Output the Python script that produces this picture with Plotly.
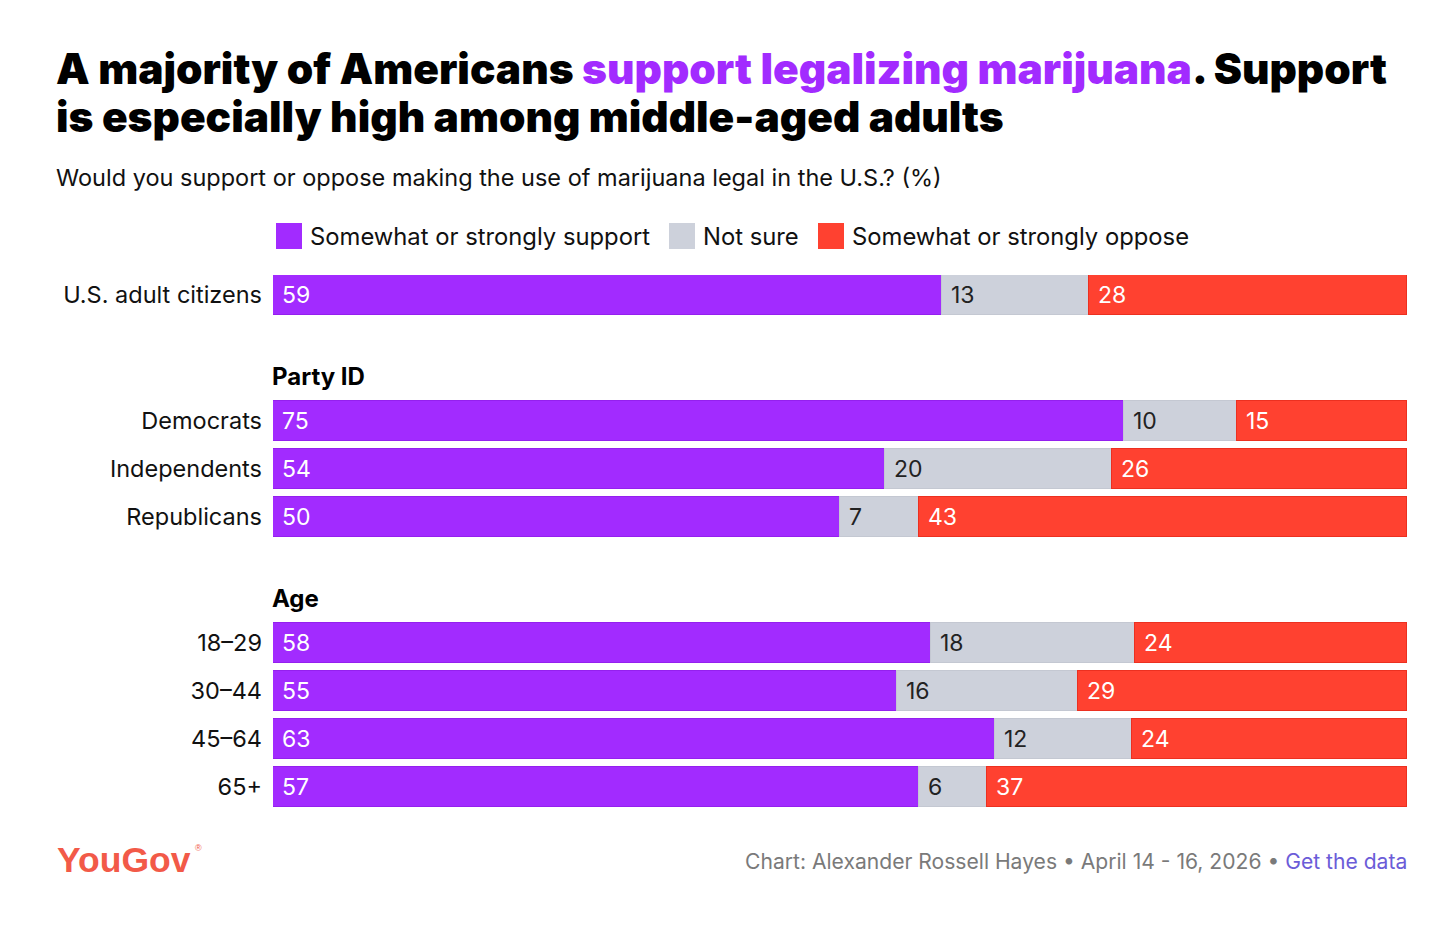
import plotly.graph_objects as go

# rows, top to bottom
groups = ["", "Party ID", "Age"]
group_rows = [
    ["U.S. adult citizens"],
    ["Democrats", "Independents", "Republicans"],
    ["18–29", "30–44", "45–64", "65+"],
]
support = [59, 75, 54, 50, 58, 55, 63, 57]
not_sure = [13, 10, 20, 7, 18, 16, 12, 6]
oppose = [28, 15, 26, 43, 24, 29, 24, 37]

series_names = ["Somewhat or strongly support", "Not sure", "Somewhat or strongly oppose"]
colors = ["#A22BFF", "#CDD1DB", "#FF4130"]
edge_colors = ["#9420EE", "#C4C8D2", "#EC3020"]
text_colors = ["white", "#222222", "white"]

FONT = "Inter"
GROUP_GAP = 1.625  # extra rows between groups

# page layout (the page body adds an 8px offset)
OFF = 8
W, H = 1456 - 2 * OFF, 932 - 2 * OFF
plot_left, plot_top, plot_w, plot_h = 273, 275, 1134, 532


def px(x):
    return (x - plot_left) / plot_w


def py(y):
    return 1 - (y - plot_top) / plot_h


# y positions per row (numeric axis, reversed)
labels, ypos, headers = [], [], []
i = 0
for g, (gname, rows) in enumerate(zip(groups, group_rows)):
    first = i + g * GROUP_GAP
    if gname:
        headers.append((gname, first - 0.92))
    for r in rows:
        labels.append(r)
        ypos.append(i + g * GROUP_GAP)
        i += 1

# rounded shares may not add to 100; stretch each row to full width
totals = [a + b + c for a, b, c in zip(support, not_sure, oppose)]

fig = go.Figure()
for name, vals, c, ec, tc in zip(series_names, [support, not_sure, oppose],
                                 colors, edge_colors, text_colors):
    fig.add_trace(go.Bar(
        y=ypos, x=[v / t * 100 for v, t in zip(vals, totals)],
        orientation="h", name=name,
        marker=dict(color=c, line=dict(color=ec, width=1)),
        width=0.83,
        text=["\u00a0" + str(v) for v in vals],
        textposition="inside", insidetextanchor="start",
        textfont=dict(family=FONT, size=23, color=tc),
        constraintext="none",
        hoverinfo="skip", showlegend=False,
    ))

annotations = []
for name, y in headers:
    annotations.append(dict(
        text=f"<b>{name}</b>", x=0, xref="paper", xanchor="left", xshift=-3,
        y=y, yref="y", yanchor="middle", showarrow=False,
        font=dict(family=FONT, size=24, color="black", weight=900),
    ))

# legend drawn by hand
legend_x = [276, 669, 818]
shapes = []
for lx, name, c in zip(legend_x, series_names, colors):
    shapes.append(dict(
        type="rect", xref="paper", yref="paper",
        x0=px(lx), x1=px(lx + 26), y0=py(249), y1=py(223),
        line=dict(width=0), fillcolor=c,
    ))
    annotations.append(dict(
        text=name, x=px(lx + 32), xref="paper", xanchor="left",
        y=py(236), yref="paper", yanchor="middle",
        showarrow=False, font=dict(family=FONT, size=23.8, color="#111111"),
    ))

title_font = dict(family=FONT, size=42.4, color="black", weight=900)
annotations += [
    dict(text="A majority of Americans <span style='color:#A22BFF'>support legalizing marijuana</span>. Support",
         x=px(54), y=py(69), xref="paper", yref="paper", xanchor="left", yanchor="middle",
         showarrow=False, font=title_font),
    dict(text="is especially high among middle-aged adults",
         x=px(54), y=py(116), xref="paper", yref="paper", xanchor="left", yanchor="middle",
         showarrow=False, font=title_font),
    dict(text="Would you support or oppose making the use of marijuana legal in the U.S.? (%)",
         x=px(54), y=py(177), xref="paper", yref="paper", xanchor="left", yanchor="middle",
         showarrow=False, font=dict(family=FONT, size=23.5, color="#111111")),
    dict(text="YouGov",
         x=px(55), y=py(860), xref="paper", yref="paper", xanchor="left", yanchor="middle",
         showarrow=False, font=dict(family="Liberation Sans", size=35.5, color="#F25A48", weight=700)),
    dict(text="®",
         x=px(193), y=py(848), xref="paper", yref="paper", xanchor="left", yanchor="middle",
         showarrow=False, font=dict(family="Liberation Sans", size=9, color="#F25A48")),
    dict(text="Chart: Alexander Rossell Hayes • April 14 - 16, 2026 • "
              "<span style='color:#6B5CD8'>Get the data</span>",
         x=px(1409), y=py(861), xref="paper", yref="paper", xanchor="right", yanchor="middle",
         showarrow=False, font=dict(family=FONT, size=21.1, color="#7A7A7A")),
]

fig.update_layout(
    barmode="stack",
    width=W, height=H,
    margin=dict(l=plot_left - OFF, r=W - (plot_left - OFF) - plot_w,
                t=plot_top - OFF, b=H - (plot_top - OFF) - plot_h, pad=0),
    paper_bgcolor="white", plot_bgcolor="white",
    xaxis=dict(range=[0, 100], visible=False, fixedrange=True),
    yaxis=dict(
        range=[ypos[-1] + 0.42, -0.42], tickmode="array",
        tickvals=ypos, ticktext=labels, ticks="", showgrid=False,
        zeroline=False, showline=False, ticklabelstandoff=10,
        tickfont=dict(family=FONT, size=23.5, color="#111111"),
    ),
    shapes=shapes,
    annotations=annotations,
    bargap=0,
)

fig.write_html("out.html")
